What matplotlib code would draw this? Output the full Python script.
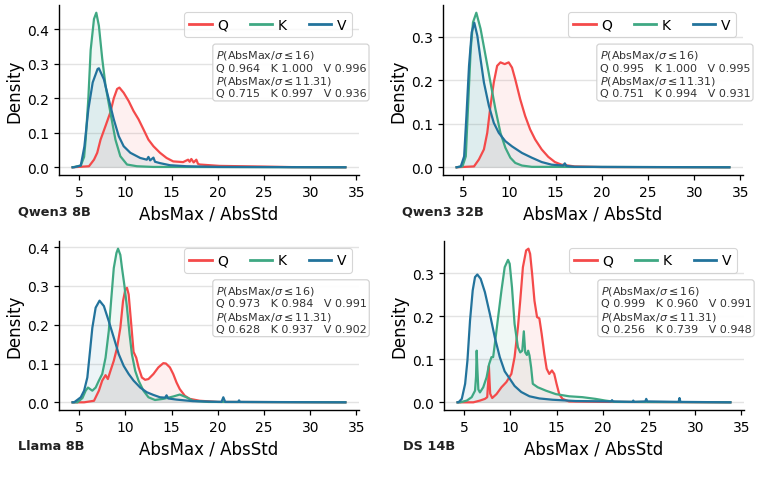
import matplotlib
matplotlib.use("Agg")
import matplotlib.pyplot as plt

# ---------------- data ----------------
panel_names = ["Qwen3 8B", "Qwen3 32B", "Llama 8B", "DS 14B"]
series_names = ["Q", "K", "V"]

# Qwen3 8B
qwen8_q_x = [4.3, 6.07, 6.61, 6.96, 7.32, 7.86, 8.39, 8.75, 9.11, 9.36, 9.82, 10.36, 10.89, 11.43, 11.96,
             12.5, 13.04, 13.75, 14.46, 15.18, 16.25, 16.79, 16.96, 17.14, 17.39, 17.68, 17.86, 18.04,
             20.18, 25.0, 28.0, 33.8]
qwen8_q_y = [0.0, 0.003, 0.022, 0.042, 0.08, 0.12, 0.16, 0.20, 0.227, 0.231, 0.216, 0.192, 0.163, 0.139, 0.11,
             0.08, 0.061, 0.042, 0.027, 0.017, 0.015, 0.022, 0.016, 0.024, 0.014, 0.022, 0.010, 0.008,
             0.004, 0.002, 0.0005, 0.0]
qwen8_k_x = [4.3, 5.18, 5.54, 5.71, 6.0, 6.25, 6.61, 6.86, 7.14, 7.5, 7.86, 8.39, 8.93, 9.46, 10.18, 11.25, 13.0, 33.8]
qwen8_k_y = [0.0, 0.005, 0.03, 0.08, 0.20, 0.34, 0.43, 0.448, 0.41, 0.315, 0.236, 0.158, 0.08, 0.032, 0.008, 0.003, 0.001, 0.0]
qwen8_v_x = [4.3, 4.46, 5.18, 5.57, 6.0, 6.47, 7.0, 7.14, 7.68, 8.21, 8.75, 9.29, 9.82, 10.54, 11.61,
             12.32, 12.5, 12.68, 13.04, 13.21, 13.75, 14.82, 16.6, 20.0, 33.8]
qwen8_v_y = [0.0, 0.0, 0.005, 0.06, 0.168, 0.246, 0.285, 0.287, 0.255, 0.197, 0.139, 0.09, 0.061, 0.042, 0.027,
             0.022, 0.030, 0.020, 0.028, 0.016, 0.012, 0.006, 0.003, 0.001, 0.0]

# Qwen3 32B
qwen32_q_x = [4.3, 6.18, 6.71, 7.25, 7.61, 7.96, 8.32, 8.68, 9.04, 9.5, 9.93, 10.29, 10.64, 11.18, 11.71, 12.25,
              12.79, 13.5, 14.21, 14.93, 15.64, 17.07, 20.0, 33.8]
qwen32_q_y = [0.0, 0.002, 0.018, 0.041, 0.079, 0.141, 0.195, 0.233, 0.241, 0.237, 0.241, 0.229, 0.202, 0.156,
              0.118, 0.087, 0.064, 0.041, 0.024, 0.012, 0.006, 0.002, 0.0005, 0.0]
qwen32_k_x = [4.3, 4.93, 5.29, 5.57, 5.82, 6.07, 6.43, 6.89, 7.43, 7.96, 8.5, 9.04, 9.57, 10.11, 10.64, 11.36, 12.43, 33.8]
qwen32_k_y = [0.0, 0.002, 0.025, 0.156, 0.27, 0.333, 0.355, 0.318, 0.256, 0.195, 0.133, 0.079, 0.045, 0.022, 0.01,
              0.004, 0.001, 0.0]
qwen32_v_x = [4.3, 4.75, 5.11, 5.36, 5.64, 5.93, 6.21, 6.54, 6.89, 7.25, 7.79, 8.32, 8.86, 9.57, 10.29, 11.36,
              12.43, 13.5, 14.57, 15.82, 16.0, 16.18, 17.07, 33.8]
qwen32_v_y = [0.0, 0.002, 0.025, 0.118, 0.233, 0.31, 0.332, 0.302, 0.248, 0.195, 0.141, 0.102, 0.079, 0.06, 0.048,
              0.033, 0.022, 0.012, 0.006, 0.004, 0.009, 0.003, 0.001, 0.0]

# Llama 8B
llama_q_x = [4.3, 5.54, 6.61, 7.14, 7.5, 7.86, 8.11, 8.39, 8.75, 9.11, 9.46, 9.75, 10.0, 10.18, 10.36, 10.61,
             10.89, 11.18, 11.43, 11.79, 12.14, 12.5, 13.04, 13.57, 14.11, 14.39, 14.82, 15.18, 15.54, 15.89,
             16.43, 16.96, 18.04, 20.0, 33.8]
llama_q_y = [0.0, 0.0, 0.004, 0.03, 0.056, 0.07, 0.06, 0.081, 0.107, 0.141, 0.192, 0.261, 0.291, 0.295, 0.278,
             0.209, 0.13, 0.115, 0.09, 0.064, 0.058, 0.06, 0.073, 0.09, 0.101, 0.10, 0.09, 0.073, 0.051, 0.034,
             0.017, 0.009, 0.004, 0.001, 0.0]
llama_k_x = [4.3, 4.82, 5.36, 5.71, 5.96, 6.43, 6.79, 7.14, 7.5, 7.86, 8.21, 8.46, 8.75, 9.04, 9.21, 9.46, 9.64,
             9.89, 10.18, 10.46, 10.71, 11.07, 11.43, 11.96, 12.5, 13.21, 14.11, 15.18, 15.89, 16.61, 17.32,
             19.0, 33.8]
llama_k_y = [0.0, 0.0, 0.011, 0.03, 0.038, 0.03, 0.038, 0.056, 0.073, 0.115, 0.184, 0.261, 0.346, 0.385, 0.396,
             0.38, 0.346, 0.303, 0.244, 0.175, 0.124, 0.081, 0.056, 0.03, 0.013, 0.006, 0.009, 0.015, 0.02,
             0.013, 0.004, 0.001, 0.0]
llama_v_x = [4.3, 4.46, 5.18, 5.54, 5.89, 6.18, 6.43, 6.79, 7.21, 7.68, 8.21, 8.75, 9.29, 9.82, 10.36, 10.89,
             11.61, 12.32, 13.04, 13.75, 14.29, 14.46, 14.64, 15.54, 17.32, 20.4, 20.6, 20.8, 22.2, 22.3, 22.4, 33.8]
llama_v_y = [0.0, 0.0, 0.013, 0.03, 0.064, 0.132, 0.192, 0.244, 0.262, 0.248, 0.209, 0.167, 0.124, 0.094, 0.073,
             0.056, 0.038, 0.026, 0.019, 0.013, 0.012, 0.018, 0.010, 0.007, 0.003, 0.001, 0.013, 0.001, 0.001,
             0.005, 0.001, 0.0]

# DS 14B
ds_q_x = [4.3, 6.0, 6.71, 7.25, 7.5, 7.61, 7.68, 7.75, 7.82, 8.04, 8.5, 9.04, 9.57, 10.11, 10.46, 10.82, 11.07,
          11.36, 11.71, 11.96, 12.14, 12.36, 12.61, 12.89, 13.14, 13.39, 13.68, 13.93, 14.21, 14.5, 14.75,
          15.0, 15.29, 15.64, 16.36, 20.0, 33.8]
ds_q_y = [0.0, 0.0, 0.004, 0.008, 0.012, 0.05, 0.085, 0.05, 0.02, 0.01, 0.019, 0.035, 0.047, 0.066, 0.105, 0.174,
          0.236, 0.314, 0.353, 0.357, 0.345, 0.298, 0.236, 0.198, 0.195, 0.159, 0.112, 0.078, 0.066, 0.074,
          0.066, 0.043, 0.019, 0.008, 0.002, 0.001, 0.0]
ds_k_x = [4.3, 4.57, 5.29, 5.82, 6.18, 6.29, 6.36, 6.43, 6.54, 6.71, 7.07, 7.43, 7.71, 7.96, 8.14, 8.32, 8.68,
          9.04, 9.39, 9.75, 9.93, 10.18, 10.46, 10.82, 11.07, 11.29, 11.46, 11.61, 11.79, 11.93, 12.07, 12.25,
          12.43, 12.96, 13.86, 14.93, 16.36, 17.79, 19.21, 20.29, 21.36, 33.8]
ds_k_y = [0.0, 0.0, 0.004, 0.012, 0.027, 0.06, 0.12, 0.08, 0.03, 0.023, 0.035, 0.058, 0.089, 0.105, 0.105, 0.135,
          0.198, 0.26, 0.314, 0.331, 0.322, 0.267, 0.182, 0.128, 0.116, 0.12, 0.165, 0.116, 0.11, 0.12, 0.109,
          0.081, 0.043, 0.035, 0.027, 0.019, 0.014, 0.012, 0.008, 0.004, 0.001, 0.0]
ds_v_x = [4.3, 4.39, 4.75, 5.11, 5.36, 5.64, 5.93, 6.18, 6.43, 6.79, 7.25, 7.79, 8.32, 8.86, 9.39, 9.93, 10.46,
          11.18, 12.07, 13.14, 14.57, 17.07, 20.9, 21.0, 21.1, 23.2, 23.3, 23.4, 24.6, 24.7, 24.8, 28.2, 28.3,
          28.4, 33.8]
ds_v_y = [0.0, 0.0, 0.008, 0.043, 0.097, 0.19, 0.26, 0.291, 0.297, 0.287, 0.256, 0.205, 0.151, 0.105, 0.072,
          0.055, 0.038, 0.024, 0.014, 0.009, 0.006, 0.003, 0.002, 0.005, 0.002, 0.001, 0.004, 0.001, 0.002,
          0.008, 0.002, 0.001, 0.010, 0.001, 0.0]

q_labels = ["Q 0.964   K 1.000   V 0.996", "Q 0.995   K 1.000   V 0.995",
            "Q 0.973   K 0.984   V 0.991", "Q 0.999   K 0.960   V 0.991"]
p11_labels = ["Q 0.715   K 0.997   V 0.936", "Q 0.751   K 0.994   V 0.931",
              "Q 0.628   K 0.937   V 0.902", "Q 0.256   K 0.739   V 0.948"]

panels = [
    [(qwen8_q_x, qwen8_q_y), (qwen8_k_x, qwen8_k_y), (qwen8_v_x, qwen8_v_y)],
    [(qwen32_q_x, qwen32_q_y), (qwen32_k_x, qwen32_k_y), (qwen32_v_x, qwen32_v_y)],
    [(llama_q_x, llama_q_y), (llama_k_x, llama_k_y), (llama_v_x, llama_v_y)],
    [(ds_q_x, ds_q_y), (ds_k_x, ds_k_y), (ds_v_x, ds_v_y)],
]

colors = ["#f44a4a", "#3fa883", "#22739c"]

# ---------------- figure ----------------
fig = plt.figure(figsize=(7.62, 4.89), dpi=100)
W, H = 762.0, 489.0
boxes = [  # left, top, right, bottom in pixels
    (59, 6, 359, 176),
    (443, 6, 743, 176),
    (59, 242, 359, 411),
    (444, 242, 744, 411),
]

for i, (l, t, r, b) in enumerate(boxes):
    ax = fig.add_axes([l / W, 1 - b / H, (r - l) / W, (b - t) / H])
    for j, (xs, ys) in enumerate(panels[i]):
        ax.plot(xs, ys, color=colors[j], lw=1.6, label=series_names[j], zorder=3 + j)
        ax.fill_between(xs, ys, 0, color=colors[j], alpha=0.08, lw=0, zorder=2)
    ax.grid(axis="y", color="#e3e3e3", lw=1.0, zorder=0)
    ax.set_axisbelow(True)
    for s in ["top", "right"]:
        ax.spines[s].set_visible(False)
    for s in ["left", "bottom"]:
        ax.spines[s].set_linewidth(1.0)
    ax.tick_params(labelsize=10, length=3.5, width=0.9)
    ax.set_xticks([5, 10, 15, 20, 25, 30, 35])
    ax.set_xlabel("AbsMax / AbsStd", fontsize=12, labelpad=4)
    ax.set_ylabel("Density", fontsize=12, labelpad=3)
    leg = ax.legend(loc="upper right", ncol=3, fontsize=10, handlelength=1.6,
                    handletextpad=0.4, columnspacing=1.6, frameon=True, fancybox=True,
                    borderaxespad=0.5)
    leg.get_frame().set_edgecolor("#cccccc")
    leg.get_frame().set_linewidth(0.8)
    for line in leg.get_lines():
        line.set_linewidth(2.0)
    txt = ("$P(\\mathrm{AbsMax}/\\sigma \\leq 16)$\n" + q_labels[i] + "\n"
           "$P(\\mathrm{AbsMax}/\\sigma \\leq 11.31)$\n" + p11_labels[i])
    ax.text(0.522, 0.745, txt, transform=ax.transAxes, fontsize=8, color="#333333",
            va="top", ha="left", linespacing=1.15, zorder=10,
            bbox=dict(boxstyle="round,pad=0.25", facecolor="white", edgecolor="#cccccc",
                      linewidth=0.8, alpha=0.95))
    ax.text(-0.137, -0.21, panel_names[i], transform=ax.transAxes, fontsize=9.3,
            fontweight="bold", color="#222222", ha="left", va="center")

fig.savefig("out.png", dpi=100)
